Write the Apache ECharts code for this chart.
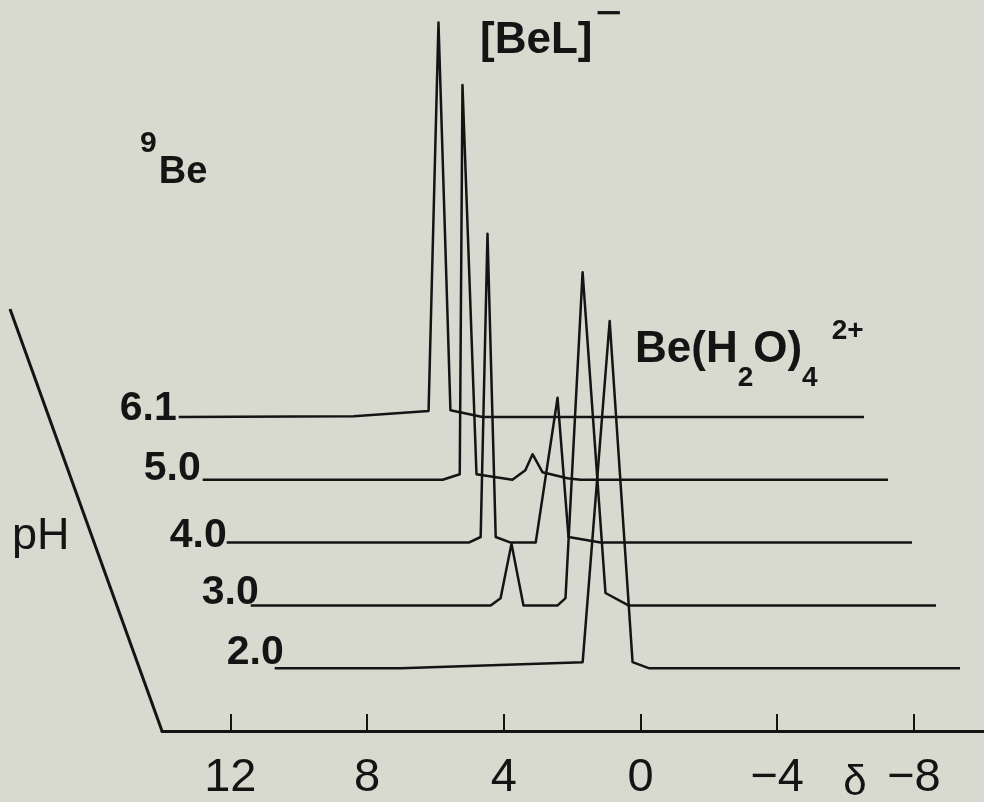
<!DOCTYPE html>
<html>
<head>
<meta charset="utf-8">
<script src="https://cdn.jsdelivr.net/npm/echarts@6/dist/echarts.min.js"></script>
<style>
html,body{margin:0;padding:0;background:#d8dad0;}
#c{width:984px;height:802px;}
</style>
</head>
<body>
<div id="c"></div>
<script>
// ---------- data (chemical shift δ / ppm, relative intensity) ----------
const phLabels = ['2.0', '3.0', '4.0', '5.0', '6.1'];

const deltaPH20 = [10.0, 6.31, 0.99, 0.20, -0.47, -0.94, -10.05];
const intPH20   = [0,    0,    1.5,  86.8, 1.5,   0,     0];

const deltaPH30 = [10.0, 2.98, 2.69, 2.37, 2.02, 1.02, 0.79, 0.29, -0.38, -1.05, -10.05];
const intPH30   = [0,    0,    1.8,  15.4, 0,    0,    1.8,  83.3, 3.1,   0,     0];

const deltaPH40 = [10.0, 2.92, 2.57, 2.37, 2.13, 1.69, 0.96, 0.32, 0.0, -0.94, -10.05];
const intPH40   = [0,    0,    1.4,  77.2, 1.4,  0,    0,    36.2, 1.4, 0,     0];

const deltaPH50 = [10.0, 2.98, 2.48, 2.40, 1.99, 0.94, 0.56, 0.35, 0.06, -0.67, -1.05, -10.05];
const intPH50   = [0,    0,    1.4,  98.7, 1.4,  0,    2.4,  6.4,  1.9,  0.4,   0,     0];

const deltaPH61 = [10.0, 4.88, 2.69, 2.40, 2.05, 1.11, -10.05];
const intPH61   = [0,    0.2,  1.5,  98.6, 1.7,  0,    0];

const tickValues = [12, 8, 4, 0, -4, -8];

// ---------- layout / style ----------
const FONT = '"Liberation Sans", Arial, Helvetica, sans-serif';
const INK = '#141414';
const BG = '#d8dad0';
const STEP_X = 24;        // px shift to the left per pH step (depth)
const STEP_Y = 62.8;      // px shift upward per pH step
const FRONT_Y = 731;      // y of the δ axis
const AXIS_LEFT = 162;
const UNIT_PX = 4;        // px per intensity unit
const X_MIN = -10.05, X_MAX = 14;
const labelOffsets = [[9, -15.5], [8, -12.5], [0, -6.5], [-2, -11.4], [-2, -8.5]];

const traces = [
  [deltaPH20, intPH20],
  [deltaPH30, intPH30],
  [deltaPH40, intPH40],
  [deltaPH50, intPH50],
  [deltaPH61, intPH61]
];

const chart = echarts.init(document.getElementById('c'), null, {renderer: 'canvas'});

const grids = [], xAxes = [], yAxes = [], series = [];
traces.forEach((t, k) => {
  const base = FRONT_Y - STEP_Y * (k + 1);
  grids.push({left: AXIS_LEFT - STEP_X * (k + 1), right: STEP_X * (k + 1),
              top: base - 100 * UNIT_PX, height: 100 * UNIT_PX});
  xAxes.push({type: 'value', gridIndex: k, min: X_MIN, max: X_MAX, inverse: true, show: false});
  yAxes.push({type: 'value', gridIndex: k, min: 0, max: 100, show: false});
  series.push({
    type: 'line', name: 'pH ' + phLabels[k], xAxisIndex: k, yAxisIndex: k,
    data: t[0].map((d, i) => [d, t[1][i]]),
    showSymbol: false, symbol: 'none', clip: false, silent: true,
    lineStyle: {color: INK, width: 2.5, join: 'round'}
  });
});

// visible δ axis
grids.push({left: AXIS_LEFT, right: 0, top: FRONT_Y - 10, height: 10});
xAxes.push({
  type: 'value', gridIndex: 5, min: X_MIN, max: X_MAX, inverse: true, position: 'bottom',
  axisLine: {show: true, onZero: false, lineStyle: {color: INK, width: 3}},
  axisTick: {show: true, inside: true, length: 17, lineStyle: {color: INK, width: 2}, customValues: tickValues},
  axisLabel: {show: true, customValues: tickValues, margin: 24, fontSize: 47, color: INK, fontFamily: FONT,
              formatter: v => String(v).replace('-', '\u2212')},
  splitLine: {show: false}
});
yAxes.push({type: 'value', gridIndex: 5, show: false});

const baseGraphics = [
  {type: 'line', shape: {x1: 10, y1: 309, x2: 162, y2: 731}, style: {stroke: INK, lineWidth: 3}},
  {type: 'text', x: 855, y: 783, style: {text: 'δ', fontSize: 42, fontFamily: FONT, fill: INK, align: 'center', verticalAlign: 'middle'}},
  {type: 'text', x: 12, y: 537, style: {text: 'pH', fontSize: 45, fontFamily: FONT, fill: INK, align: 'left', verticalAlign: 'middle'}},
  {type: 'text', x: 140, y: 172.5, style: {
    text: '{p|9}{m|Be}', align: 'left', verticalAlign: 'middle', fill: INK,
    rich: {
      m: {fontSize: 38, fontWeight: 'bold', fontFamily: FONT, fill: INK, height: 100, lineHeight: 100, padding: [0, 0, 0, 2]},
      p: {fontSize: 30, fontWeight: 'bold', fontFamily: FONT, fill: INK, verticalAlign: 'top', height: 43, lineHeight: 43}
    }}},
  {type: 'text', x: 480, y: 41, style: {
    text: '{m|[BeL]}{p|\u2212}', align: 'left', verticalAlign: 'middle', fill: INK,
    rich: {
      m: {fontSize: 44, fontWeight: 'bold', fontFamily: FONT, fill: INK, height: 100, lineHeight: 100},
      p: {fontSize: 46, fontFamily: FONT, fill: INK, verticalAlign: 'top', height: 48, lineHeight: 48, padding: [0, 0, 0, 3]}
    }}},
  {type: 'text', x: 635, y: 350, style: {
    text: '{m|Be(H}{s|2}{m|O)}{s|4}{p|2+}', align: 'left', verticalAlign: 'middle', fill: INK,
    rich: {
      m: {fontSize: 44, fontWeight: 'bold', fontFamily: FONT, fill: INK, height: 100, lineHeight: 100},
      s: {fontSize: 28, fontWeight: 'bold', fontFamily: FONT, fill: INK, verticalAlign: 'bottom', height: 44, lineHeight: 44},
      p: {fontSize: 28, fontWeight: 'bold', fontFamily: FONT, fill: INK, verticalAlign: 'top', height: 62, lineHeight: 62, padding: [0, 0, 0, 14]}
    }}}
];

const option = {
  backgroundColor: BG,
  animation: false,
  grid: grids,
  xAxis: xAxes,
  yAxis: yAxes,
  series: series,
  graphic: baseGraphics
};
chart.setOption(option);

// pH labels at the start of each trace, positioned from the data via the trace's own axes
const labelGraphics = traces.map((t, k) => {
  const p = chart.convertToPixel({gridIndex: k}, [t[0][0], t[1][0]]);
  return {type: 'text', x: p[0] + labelOffsets[k][0], y: p[1] + labelOffsets[k][1],
          style: {text: phLabels[k], fontSize: 41, fontWeight: 'bold', fontFamily: FONT, fill: INK,
                  align: 'right', verticalAlign: 'middle'}};
});
chart.setOption({graphic: baseGraphics.concat(labelGraphics)}, {replaceMerge: ['graphic']});
</script>
</body>
</html>
